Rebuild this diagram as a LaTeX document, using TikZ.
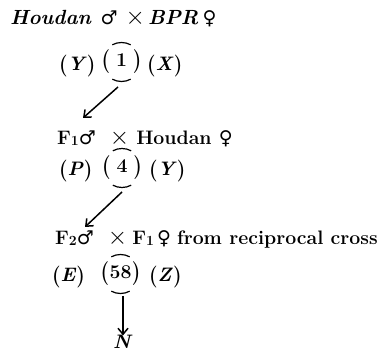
\documentclass[tikz,border=0pt]{standalone}
\usepackage{fontspec}
\usepackage{graphicx}
\usetikzlibrary{arrows.meta}
\newfontfamily\symfont{DejaVu Sans}
\newcommand{\mymale}{{\symfont\fontsize{19}{22}\selectfont ♂}}
\newcommand{\myfemale}{{\symfont\fontsize{19}{22}\selectfont ♀}}
\newcommand{\mycross}{{\fontsize{24}{26}\selectfont$\times$}}
\newcommand{\lp}{\raisebox{-1pt}{\scalebox{1}[1.12]{(}}}
\newcommand{\rp}{\raisebox{-1pt}{\scalebox{1}[1.12]{)}}}
\newcommand{\sub}[1]{\raisebox{-1pt}{\fontsize{14}{16}\selectfont #1}}
\newcommand{\circnum}[1]{\makebox[40pt]{\raisebox{-1.5pt}{\scalebox{1}[1.22]{(}}\hfill#1\hfill\raisebox{-1.5pt}{\scalebox{1}[1.22]{)}}}}
\tikzset{
  txt/.style={anchor=base west, inner sep=0pt, font=\fontsize{19.5}{23}\bfseries},
  circ/.style={inner sep=0pt, font=\fontsize{19.5}{23}\bfseries},
  arc/.style={line width=1.2pt},
  link/.style={line width=1.5pt, -{Straight Barb[length=6pt,width=10pt]}}
}
\begin{document}
\begin{tikzpicture}[x=1pt,y=1pt]
\useasboundingbox (0,0) rectangle (383,353);
% line 1
\node[txt, font=\fontsize{20.5}{23}\bfseries] (l1) at (10,328) {\textit{Houdan}\hspace{9pt}\mymale\hspace{8pt}\mycross\hspace{3pt}\textit{BPR}\hspace{4pt}\myfemale};
% line 2
\node[txt] (y1) at (59,282) {\lp\textit{Y}\rp};
\node[circ] (c1) at (121.5,291) {\circnum{1}};
\node[txt] (x1) at (147,282) {\lp\textit{X}\rp};
\draw[arc] ([shift={(62:19.5)}]c1.center) arc (62:118:19.5);
\draw[arc] ([shift={(242:19.5)}]c1.center) arc (242:298:19.5);
% line 3
\node[txt] (l3) at (57,208) {F\sub{1}\mymale\hspace{14pt}\mycross\hspace{7pt}Houdan \myfemale};
% line 4
\node[txt] (p4) at (59,177) {\lp\textit{P}\rp};
\node[circ] (c4) at (122,185) {\circnum{4}};
\node[txt] (y4) at (149,177) {\lp\textit{Y}\rp};
\draw[arc] ([shift={(62:19.5)}]c4.center) arc (62:118:19.5);
\draw[arc] ([shift={(242:19.5)}]c4.center) arc (242:298:19.5);
% line 5
\node[txt] (l5) at (55,108) {F\sub{2}\mymale\hspace{14pt}\mycross\hspace{5pt}F\sub{1}\,\myfemale\hspace{6pt}from reciprocal cross};
% line 6
\node[txt] (e6) at (52,71) {\lp\textit{E}\rp};
\node[circ] (c6) at (120.5,79) {\circnum{58}};
\node[txt] (z6) at (149,71) {\lp\textit{Z}\rp};
\draw[arc] ([shift={(62:19.5)}]c6.center) arc (62:118:19.5);
\draw[arc] ([shift={(242:19.5)}]c6.center) arc (242:298:19.5);
% N
\node[circ, anchor=base] (n) at (123,4) {\textit{N}};
% connectors
\coordinate (a1s) at (118,266);
\coordinate (a1e) at (83,235);
\coordinate (a2s) at (122,161);
\coordinate (a2e) at (85,126);
\coordinate (a3s) at (123,57);
\draw[link] (a1s) -- (a1e);
\draw[link] (a2s) -- (a2e);
\draw[link] (a3s) -- (n.north);
\end{tikzpicture}
\end{document}
